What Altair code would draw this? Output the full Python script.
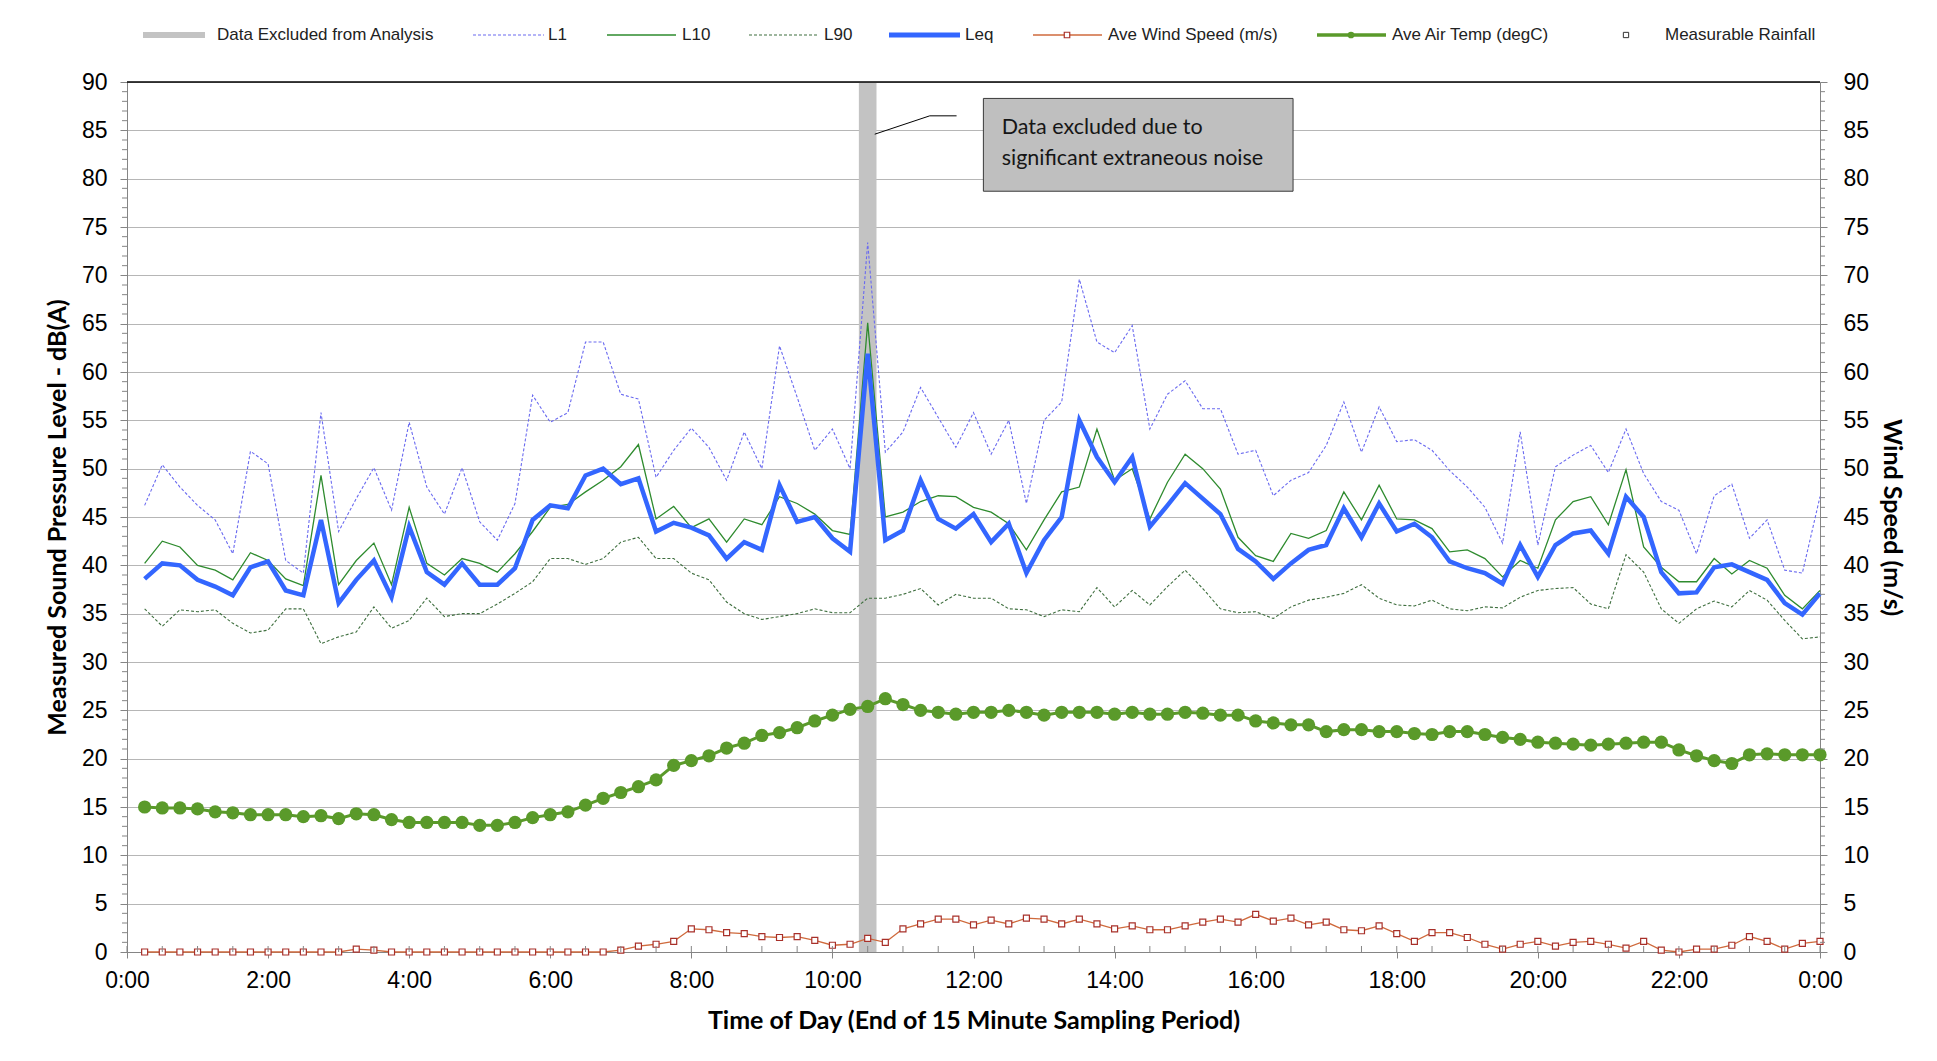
import altair as alt
import pandas as pd

# ---------------- data ----------------
# end of each 15-minute sampling period, in hours after midnight
hours = [i * 0.25 for i in range(1, 97)]

L1 = [46.2, 50.4, 48.1, 46.2, 44.7, 41.2, 51.8, 50.5, 40.5, 39.2, 55.8, 43.5,
      46.9, 50.1, 45.7, 54.8, 48.1, 45.3, 50.1, 44.5, 42.6, 46.4, 57.6, 54.8,
      55.8, 63.1, 63.1, 57.7, 57.2, 49.1, 51.9, 54.2, 52.2, 48.8, 53.8, 50.0,
      62.7, 57.4, 51.9, 54.1, 50.0, 73.4, 51.7, 53.8, 58.4, 55.3, 52.2, 55.8,
      51.5, 55.0, 46.4, 55.0, 56.9, 69.6, 63.1, 62.0, 64.8, 54.1, 57.7, 59.1,
      56.2, 56.2, 51.5, 51.9, 47.2, 48.8, 49.6, 52.4, 56.9, 51.7, 56.4, 52.8,
      53.0, 51.9, 49.8, 48.1, 46.0, 42.3, 53.8, 42.1, 50.2, 51.4, 52.4, 49.6,
      54.1, 49.5, 46.6, 45.7, 41.2, 47.2, 48.4, 42.8, 44.7, 39.5, 39.2, 47.1]

L10 = [40.2, 42.5, 41.9, 40.0, 39.5, 38.5, 41.3, 40.5, 38.6, 37.9, 49.3, 38.0,
       40.5, 42.3, 38.0, 46.0, 40.2, 39.0, 40.7, 40.2, 39.3, 41.2, 43.5, 46.0,
       46.3, 47.6, 48.8, 50.2, 52.5, 44.8, 46.1, 43.9, 44.8, 42.4, 44.8, 44.2,
       47.1, 46.4, 45.3, 43.6, 43.2, 65.1, 45.0, 45.5, 46.6, 47.2, 47.1, 46.0,
       45.5, 44.3, 41.6, 44.7, 47.6, 48.1, 54.1, 48.8, 50.0, 44.8, 48.6, 51.5,
       50.0, 47.9, 42.9, 41.0, 40.4, 43.3, 42.8, 43.6, 47.6, 44.7, 48.3, 44.8,
       44.7, 43.8, 41.4, 41.6, 40.7, 38.8, 40.5, 39.7, 44.7, 46.6, 47.1, 44.2,
       49.9, 41.9, 39.8, 38.3, 38.3, 40.7, 39.1, 40.5, 39.7, 36.9, 35.5, 37.4]

L90 = [35.5, 33.7, 35.4, 35.2, 35.4, 34.0, 33.0, 33.3, 35.5, 35.5, 31.9, 32.6,
       33.1, 35.7, 33.5, 34.3, 36.6, 34.7, 35.0, 35.0, 36.0, 37.1, 38.3, 40.7,
       40.7, 40.1, 40.7, 42.4, 42.9, 40.7, 40.7, 39.2, 38.5, 36.2, 35.0, 34.4,
       34.7, 35.0, 35.5, 35.1, 35.1, 36.6, 36.6, 37.0, 37.6, 35.9, 37.0, 36.6,
       36.6, 35.5, 35.4, 34.7, 35.4, 35.2, 37.7, 35.7, 37.4, 35.9, 37.8, 39.5,
       37.6, 35.5, 35.1, 35.2, 34.5, 35.7, 36.4, 36.7, 37.1, 38.0, 36.6, 35.9,
       35.8, 36.4, 35.5, 35.3, 35.7, 35.6, 36.7, 37.4, 37.6, 37.7, 36.0, 35.5,
       41.1, 39.3, 35.5, 34.0, 35.5, 36.3, 35.7, 37.4, 36.4, 34.3, 32.4, 32.6]

Leq = [38.6, 40.2, 40.0, 38.5, 37.8, 36.9, 39.8, 40.4, 37.4, 36.9, 44.7, 36.1,
       38.5, 40.5, 36.7, 44.0, 39.3, 38.0, 40.2, 38.0, 38.0, 39.7, 44.7, 46.2,
       45.9, 49.3, 50.0, 48.4, 49.0, 43.5, 44.4, 43.9, 43.1, 40.7, 42.4, 41.6,
       48.3, 44.5, 45.0, 42.8, 41.4, 61.9, 42.6, 43.6, 48.8, 44.8, 43.8, 45.3,
       42.4, 44.3, 39.2, 42.6, 45.0, 55.0, 51.2, 48.6, 51.2, 44.0, 46.2, 48.5,
       46.9, 45.3, 41.7, 40.4, 38.6, 40.2, 41.6, 42.1, 45.9, 42.9, 46.4, 43.5,
       44.3, 42.9, 40.4, 39.7, 39.2, 38.1, 42.1, 38.8, 42.1, 43.3, 43.6, 41.2,
       47.1, 45.0, 39.3, 37.1, 37.2, 39.8, 40.1, 39.3, 38.5, 36.1, 34.9, 37.1]

wind = [0, 0, 0, 0, 0, 0, 0, 0, 0, 0, 0, 0,
        0.3, 0.2, 0, 0, 0, 0, 0, 0, 0, 0, 0, 0,
        0, 0, 0, 0.2, 0.6, 0.8, 1.1, 2.4, 2.3, 2.0, 1.9, 1.6,
        1.5, 1.6, 1.2, 0.7, 0.8, 1.4, 1.0, 2.4, 2.9, 3.4, 3.4, 2.8,
        3.3, 2.9, 3.5, 3.4, 2.9, 3.4, 2.9, 2.4, 2.7, 2.3, 2.3, 2.7,
        3.1, 3.4, 3.1, 3.9, 3.2, 3.5, 2.8, 3.1, 2.3, 2.2, 2.7, 1.9,
        1.1, 2.0, 2.0, 1.5, 0.8, 0.3, 0.8, 1.1, 0.6, 1.0, 1.1, 0.8,
        0.4, 1.1, 0.2, 0.0, 0.3, 0.3, 0.7, 1.6, 1.1, 0.3, 0.9, 1.1]

temp = [15.0, 14.9, 14.9, 14.8, 14.5, 14.4, 14.2, 14.2, 14.2, 14.0, 14.1, 13.8,
        14.3, 14.2, 13.7, 13.4, 13.4, 13.4, 13.4, 13.1, 13.1, 13.4, 13.9, 14.2,
        14.5, 15.2, 15.9, 16.5, 17.1, 17.8, 19.3, 19.8, 20.3, 21.1, 21.6, 22.4,
        22.7, 23.2, 23.9, 24.5, 25.1, 25.4, 26.2, 25.6, 25.0, 24.8, 24.6, 24.8,
        24.8, 25.0, 24.8, 24.5, 24.8, 24.8, 24.8, 24.6, 24.8, 24.6, 24.6, 24.8,
        24.7, 24.5, 24.5, 23.9, 23.7, 23.5, 23.5, 22.8, 23.0, 23.0, 22.8, 22.8,
        22.6, 22.5, 22.8, 22.8, 22.5, 22.2, 22.0, 21.7, 21.6, 21.5, 21.4, 21.5,
        21.6, 21.7, 21.7, 20.9, 20.3, 19.8, 19.5, 20.4, 20.5, 20.4, 20.4, 20.4]

excluded_start = [10.375]
excluded_end = [10.625]

note_lines = ["Data excluded due to", "significant extraneous noise"]

y_ticks = list(range(0, 91, 5))
x_ticks = list(range(0, 25, 2))
y_minor = [v for v in range(0, 91) if v % 5]
x_minor = [h / 2 for h in range(0, 49)]

legend_labels = ["Data Excluded from Analysis", "L1", "L10", "L90", "Leq",
                 "Ave Wind Speed (m/s)", "Ave Air Temp (degC)", "Measurable Rainfall"]

# ---------------- layout ----------------
W, H = 1693, 870
XS = alt.Scale(domain=[0, 24], nice=False, zero=False)
YS = alt.Scale(domain=[0, 90], nice=False)
AX_GREY = "#858585"
TITLE_SIZE = 25
LABEL_SIZE = 23

X_AX = alt.Axis(values=x_ticks, labelExpr="(datum.value % 24) + ':00'",
                labelFont="Liberation Sans", labelFontSize=LABEL_SIZE, labelColor="black",
                labelPadding=11, labelFlush=False, tickSize=6, tickColor=AX_GREY,
                domainColor=AX_GREY, grid=False,
                title="Time of Day (End of 15 Minute Sampling Period)",
                titleFont="Lato", titleFontSize=TITLE_SIZE, titleFontWeight="bold",
                titleColor="black", titleX=W / 2, titleY=68,
                titleAlign="center", titleBaseline="middle")

Y_AX = alt.Axis(values=y_ticks, labelFont="Liberation Sans", labelFontSize=LABEL_SIZE,
                labelColor="black", labelPadding=13, tickSize=7, tickColor=AX_GREY,
                domainColor=AX_GREY, grid=True, gridColor="#b6b6b6", gridWidth=1,
                title="Measured Sound Pressure Level - dB(A)", titleFont="Lato",
                titleFontSize=TITLE_SIZE, titleFontWeight="bold", titleColor="black",
                titleAngle=-90, titleX=-70, titleY=H / 2, titleAlign="center",
                titleBaseline="middle")

R_AX = alt.Axis(orient="right", values=y_ticks, labelFont="Liberation Sans",
                labelFontSize=LABEL_SIZE, labelColor="black", labelPadding=16, tickSize=7,
                tickColor=AX_GREY, domainColor=AX_GREY, grid=False,
                title="Wind Speed (m/s)", titleFont="Lato", titleFontSize=TITLE_SIZE,
                titleFontWeight="bold", titleColor="black", titleAngle=90,
                titleX=71, titleY=H / 2, titleAlign="center", titleBaseline="middle")

df = pd.DataFrame({"h": hours, "L1": L1, "L10": L10, "L90": L90, "Leq": Leq,
                   "Wind": wind, "Temp": temp})


def X(field):
    return alt.X(f"{field}:Q", scale=XS, axis=X_AX)


def Y(field):
    return alt.Y(f"{field}:Q", scale=YS, axis=Y_AX)


band = alt.Chart(pd.DataFrame({"s": excluded_start, "e": excluded_end,
                               "lo": [0], "hi": [90]})).mark_rect(
    color="#c3c3c3").encode(x=X("s"), x2="e", y=Y("lo"), y2="hi")


def series_line(field, color, width, dash=None):
    kw = dict(color=color, strokeWidth=width)
    if dash:
        kw["strokeDash"] = dash
    return alt.Chart(df).mark_line(**kw).encode(x=X("h"), y=Y(field))


c_L1, c_L10, c_L90, c_Leq = "#6a6af0", "#2e8b2e", "#3f6f3f", "#3366ff"
c_wind_line, c_wind_mark = "#cf6a3c", "#a8302a"
c_temp = "#5a9a2a"

l1 = series_line("L1", c_L1, 1.1, [3, 2])
l10 = series_line("L10", c_L10, 1.3)
l90 = series_line("L90", c_L90, 1.1, [3, 2])
leq = series_line("Leq", c_Leq, 4.5)

temp_line = series_line("Temp", c_temp, 3)
temp_pts = alt.Chart(df).mark_point(shape="circle", filled=True, size=175,
                                    color=c_temp, opacity=1).encode(x=X("h"), y=Y("Temp"))
wind_line = series_line("Wind", c_wind_line, 1.3)
wind_pts = alt.Chart(df).mark_point(shape="square", filled=False, size=36,
                                    color=c_wind_mark, fill="white", fillOpacity=1,
                                    strokeWidth=1.2, opacity=1).encode(x=X("h"), y=Y("Wind"))

# annotation box
box = alt.Chart(pd.DataFrame({"x0": [12.14], "x1": [16.53], "y0": [78.7], "y1": [88.3]})
                ).mark_rect(fill="#bfbfbf", stroke="#3a3a3a", strokeWidth=1).encode(
    x=X("x0"), x2="x1", y=Y("y0"), y2="y1")
note = alt.Chart(pd.DataFrame({"x": [12.4, 12.4], "y": [84.64, 81.37], "t": note_lines})
                 ).mark_text(align="left", baseline="alphabetic", font="Lato",
                             fontSize=21.5, color="#161616").encode(
    x=X("x"), y=Y("y"), text="t:N")
leader = alt.Chart(pd.DataFrame({"x": [10.6, 11.38, 11.76], "y": [84.6, 86.5, 86.5],
                                 "o": [0, 1, 2]})).mark_line(
    color="black", strokeWidth=1).encode(x=X("x"), y=Y("y"), order="o:O")

# minor ticks and top border
ticks_df_y = pd.DataFrame({"v": y_minor})
ticks_df_x = pd.DataFrame({"v": x_minor})
ytick_l = alt.Chart(ticks_df_y).mark_rule(color=AX_GREY).encode(
    y=Y("v"), x=alt.value(-5), x2=alt.value(0))
ytick_r = alt.Chart(ticks_df_y).mark_rule(color=AX_GREY).encode(
    y=Y("v"), x=alt.value(W), x2=alt.value(W + 5))
xtick = alt.Chart(ticks_df_x).mark_rule(color=AX_GREY).encode(
    x=X("v"), y=alt.value(H - 6), y2=alt.value(H))
top_border = alt.Chart(pd.DataFrame({"a": [0]})).mark_rule(
    color="black", strokeWidth=1.5).encode(x=alt.value(0), x2=alt.value(W), y=alt.value(0))

# legend (manual, along the top)
one = pd.DataFrame({"a": [0]})
LY = -47
legend_layers = []


def lg_rule(x0, x1, color, width, dash=None):
    kw = dict(color=color, strokeWidth=width)
    if dash:
        kw["strokeDash"] = dash
    return alt.Chart(one).mark_rule(**kw).encode(
        x=alt.value(x0), x2=alt.value(x1), y=alt.value(LY))


def lg_text(x, label):
    return alt.Chart(one).mark_text(align="left", baseline="middle",
                                    font="Liberation Sans", fontSize=17,
                                    color="#222222").encode(
        x=alt.value(x), y=alt.value(LY), text=alt.value(label))


legend_layers += [lg_rule(16, 78, "#c3c3c3", 6), lg_text(90, legend_labels[0])]
legend_layers += [lg_rule(346, 417, c_L1, 1.2, [3, 2]), lg_text(421, legend_labels[1])]
legend_layers += [lg_rule(480, 549, c_L10, 1.5), lg_text(555, legend_labels[2])]
legend_layers += [lg_rule(622, 691, c_L90, 1.2, [3, 2]), lg_text(697, legend_labels[3])]
legend_layers += [lg_rule(762, 833, c_Leq, 5), lg_text(838, legend_labels[4])]
legend_layers += [lg_rule(906, 975, c_wind_line, 1.5),
                  alt.Chart(one).mark_point(shape="square", size=30, color=c_wind_mark,
                                            fill="white", fillOpacity=1, strokeWidth=1.2,
                                            opacity=1).encode(x=alt.value(940), y=alt.value(LY)),
                  lg_text(981, legend_labels[5])]
legend_layers += [lg_rule(1190, 1259, c_temp, 3.5),
                  alt.Chart(one).mark_point(shape="circle", filled=True, size=45,
                                            color=c_temp, opacity=1).encode(
                      x=alt.value(1224), y=alt.value(LY)),
                  lg_text(1265, legend_labels[6])]
legend_layers += [alt.Chart(one).mark_point(shape="square", size=28, color="#333333",
                                            fill="white", fillOpacity=1, strokeWidth=1,
                                            opacity=1).encode(x=alt.value(1499), y=alt.value(LY)),
                  lg_text(1538, legend_labels[7])]

main = alt.layer(band, l90, l1, l10, leq, temp_line, temp_pts, wind_line, wind_pts,
                 leader, box, note, ytick_l, ytick_r, xtick, top_border, *legend_layers)

right = alt.Chart(pd.DataFrame({"v": [0, 90]})).mark_point(opacity=0).encode(
    y=alt.Y("v:Q", scale=alt.Scale(domain=[0, 90], nice=False), axis=R_AX))

chart = alt.layer(main, right).resolve_scale(y="independent").properties(
    width=W, height=H,
    padding={"left": 119, "top": 74, "right": 100, "bottom": 85},
    autosize=alt.AutoSizeParams(type="none"),
).configure_view(stroke=None).configure(font="Liberation Sans", background="white")

chart.save("out.html", embed_options={"renderer": "svg", "actions": False})
